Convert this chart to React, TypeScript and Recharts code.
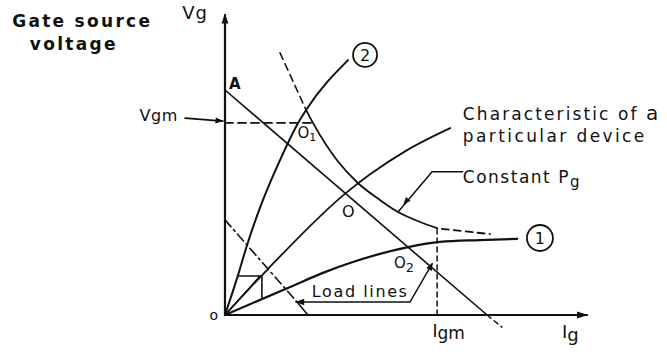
import React from 'react';
import { ComposedChart, Line, XAxis, YAxis, ReferenceDot } from 'recharts';

type P = [number, number];

// ---- data (x = gate current Ig units, y = gate voltage Vg units) ----
const curve2: P[] = [[0, 0], [3.6, 13.2], [6.1, 23.2], [10.5, 38.1], [15.2, 51.3], [20.2, 63.6], [22.4, 67.9], [34.0, 84.4]];
const curve1: P[] = [[0, 0], [18.0, 9.3], [27.6, 14.2], [34.5, 17.2], [50.6, 22.5], [59.4, 24.2], [70.4, 24.8], [80.7, 25.2]];
const characteristic: P[] = [[0, 0], [11.6, 14.9], [33.7, 40.7], [40, 46.5], [50.3, 54.6], [62.2, 61.9]];
const pgDashedTop: P[] = [[15.2, 86.8], [22.4, 67.9]];
const pgSolid: P[] = [[22.4, 67.9], [24.3, 63.6], [30.9, 51.3], [36.7, 43.7], [42.8, 38.1], [47.8, 34.1], [53.9, 30.8], [58.6, 28.8]];
const pgTail: P[] = [[59.9, 28.5], [73.2, 26.8]];
const loadLineA: P[] = [[0, 74.5], [72.4, 0]];
const loadLineAExt: P[] = [[72.4, 0], [76.5, -4]];
const loadLineB: P[] = [[0, 31.5], [19.9, 4.3]];
const loadLineBEnd: P[] = [[19.9, 4.3], [22.9, 0]];
const vgmLine: P[] = [[0, 63.6], [24.9, 63.6]];
const igmLine: P[] = [[58.6, 0], [58.6, 28.8]];
const boxTop: P[] = [[3.6, 12.9], [9.7, 12.9], [0, 0]];
const boxSide: P[] = [[10.2, 12.6], [10.2, 5.6]];
const yAxisLine: P[] = [[0, 0], [0, 99.3]];
const xAxisLine: P[] = [[0, 0], [100, 0]];
const loadPointer: P[] = [[19.6, 4.3], [51.1, 4.3], [57.2, 16.9]];
const pgPointer: P[] = [[47.8, 34.1], [57.2, 47.4], [65.6, 47.4]];
const vgmPointer: P[] = [[-11.0, 65.2], [-0.6, 64.2]];

const X_DOMAIN: [number, number] = [-62.15, 122.1];
const Y_DOMAIN: [number, number] = [-12.25, 104.3];

const rows = (pts: P[]) => pts.map(([x, y]) => ({ x, y }));
const INK = '#111';
const FONT = '"DejaVu Sans", sans-serif';

const arrowShape = (angle: number, len = 9, half = 3.5) => (props: any) => {
  const { cx, cy } = props;
  return (
    <polygon
      points={`0,0 ${-len},${-half} ${-len},${half}`}
      transform={`translate(${cx},${cy}) rotate(${angle})`}
      fill={INK}
    />
  );
};

const textShape = (content: React.ReactNode, opts: { size?: number; bold?: boolean; ls?: number; anchor?: string } = {}) => (props: any) => {
  const { cx, cy } = props;
  return (
    <text
      x={cx}
      y={cy}
      fontFamily={FONT}
      fontSize={opts.size ?? 16}
      fontWeight={opts.bold ? 'bold' : 'normal'}
      letterSpacing={opts.ls ?? 0}
      textAnchor={opts.anchor ?? 'start'}
      fill={INK}
    >
      {content}
    </text>
  );
};

const circleShape = (label: string, r: number) => (props: any) => {
  const { cx, cy } = props;
  return (
    <g>
      <circle cx={cx} cy={cy} r={r} fill="#fff" stroke={INK} strokeWidth={1.8} />
      <text x={cx} y={cy + 6} textAnchor="middle" fontFamily={FONT} fontSize={16} fill={INK}>
        {label}
      </text>
    </g>
  );
};

const sub = (t: string, dy = 4, size = 12) => (
  <tspan dy={dy} fontSize={size}>{t}</tspan>
);

export default function App() {
  const L = (pts: P[], opts: { w?: number; dash?: string; curve?: boolean; key: string }) => (
    <Line
      key={opts.key}
      data={rows(pts)}
      dataKey="y"
      type={opts.curve ? 'monotone' : 'linear'}
      stroke={INK}
      strokeWidth={opts.w ?? 2}
      strokeDasharray={opts.dash}
      dot={false}
      activeDot={false}
      isAnimationActive={false}
      strokeLinecap="round"
    />
  );

  const dot = (x: number, y: number, shape: any, key: string) => (
    <ReferenceDot key={key} x={x} y={y} r={1} shape={shape} ifOverflow="visible" />
  );

  return (
    <div style={{ position: 'absolute', left: 0, top: 0, background: '#fff' }}>
      <ComposedChart width={667} height={352} margin={{ top: 0, right: 0, bottom: 0, left: 0 }}>
        <XAxis type="number" dataKey="x" domain={X_DOMAIN} hide allowDataOverflow />
        <YAxis type="number" dataKey="y" domain={Y_DOMAIN} hide allowDataOverflow />
        {L(yAxisLine, { key: 'yax', w: 2.2 })}
        {L(xAxisLine, { key: 'xax', w: 2.2 })}
        {L(curve2, { key: 'c2', curve: true, w: 2 })}
        {L(curve1, { key: 'c1', curve: true, w: 2.2 })}
        {L(characteristic, { key: 'ch', curve: true, w: 1.8 })}
        {L(pgDashedTop, { key: 'pgd', dash: '7 5', w: 1.6 })}
        {L(pgSolid, { key: 'pgs', curve: true, w: 1.8 })}
        {L(pgTail, { key: 'pgt', dash: '7 5', w: 1.8 })}
        {L(loadLineA, { key: 'la', w: 1.6 })}
        {L(loadLineAExt, { key: 'lae', dash: '5 4', w: 1.4 })}
        {L(loadLineB, { key: 'lb', dash: '9 4 2 4', w: 1.6 })}
        {L(loadLineBEnd, { key: 'lbe', w: 1.6 })}
        {L(vgmLine, { key: 'vgm', dash: '8 5', w: 1.8 })}
        {L(igmLine, { key: 'igm', dash: '5 4', w: 1.5 })}
        {L(boxTop, { key: 'bt', w: 1.6 })}
        {L(boxSide, { key: 'bs', w: 1.6 })}
        {L(loadPointer, { key: 'lp', w: 1.5 })}
        {L(pgPointer, { key: 'pp', w: 1.5 })}
        {L(vgmPointer, { key: 'vp', w: 1.8 })}

        {dot(0, 99.8, arrowShape(-90, 10, 3.5), 'ay')}
        {dot(100.3, 0, arrowShape(0, 11, 3.5), 'ax')}
        {dot(-0.4, 64.2, arrowShape(5, 8, 3), 'av')}
        {dot(19.4, 4.3, arrowShape(180, 9, 3.2), 'al')}
        {dot(57.4, 17.4, arrowShape(-62, 8, 3), 'alp')}
        {dot(49.2, 36.4, arrowShape(130, 8, 3), 'app')}

        {dot(38.7, 86.1, circleShape('2', 12), 'c2l')}
        {dot(87.0, 25.5, circleShape('1', 13), 'c1l')}

        {dot(-58.8, 95.4, textShape('Gate source', { bold: true, size: 17, ls: 2.3 }), 't1')}
        {dot(-53.9, 87.9, textShape('voltage', { bold: true, size: 17, ls: 2.3 }), 't2')}
        {dot(-11.8, 97.9, textShape('Vg', { size: 18, ls: 1 }), 't3')}
        {dot(-23.6, 64.4, textShape('Vgm', { size: 16, ls: 0.5 }), 't4')}
        {dot(1.1, 74.7, textShape('A', { size: 15, bold: true }), 't5')}
        {dot(20.0, 58.5, textShape(<>O{sub('1', 3, 11)}</>, { size: 15 }), 't6')}
        {dot(32.3, 32.6, textShape('O', { size: 16 }), 't7')}
        {dot(46.7, 15.4, textShape(<>O{sub('2', 4, 13)}</>, { size: 15 }), 't8')}
        {dot(-4.3, -1.8, textShape('o', { size: 14 }), 't9')}
        {dot(57.3, -7.4, textShape(<>I<tspan dy={2}>gm</tspan></>, { size: 17 }), 't10')}
        {dot(93.1, -7.6, textShape(<>I<tspan dy={3}>g</tspan></>, { size: 18 }), 't11')}
        {dot(65.7, 64.6, textShape(<>Characteristic of <tspan fontSize={20} letterSpacing={0}>a</tspan></>, { size: 17, ls: 2.1 }), 't12')}
        {dot(65.7, 57.3, textShape('particular device', { size: 17, ls: 2.4 }), 't13')}
        {dot(65.7, 43.7, textShape(<>Constant   P{sub('g', 4, 15)}</>, { size: 17, ls: 1.5 }), 't14')}
        {dot(24.0, 5.8, textShape('Load lines', { size: 16, ls: 1.6 }), 't15')}
      </ComposedChart>
    </div>
  );
}
